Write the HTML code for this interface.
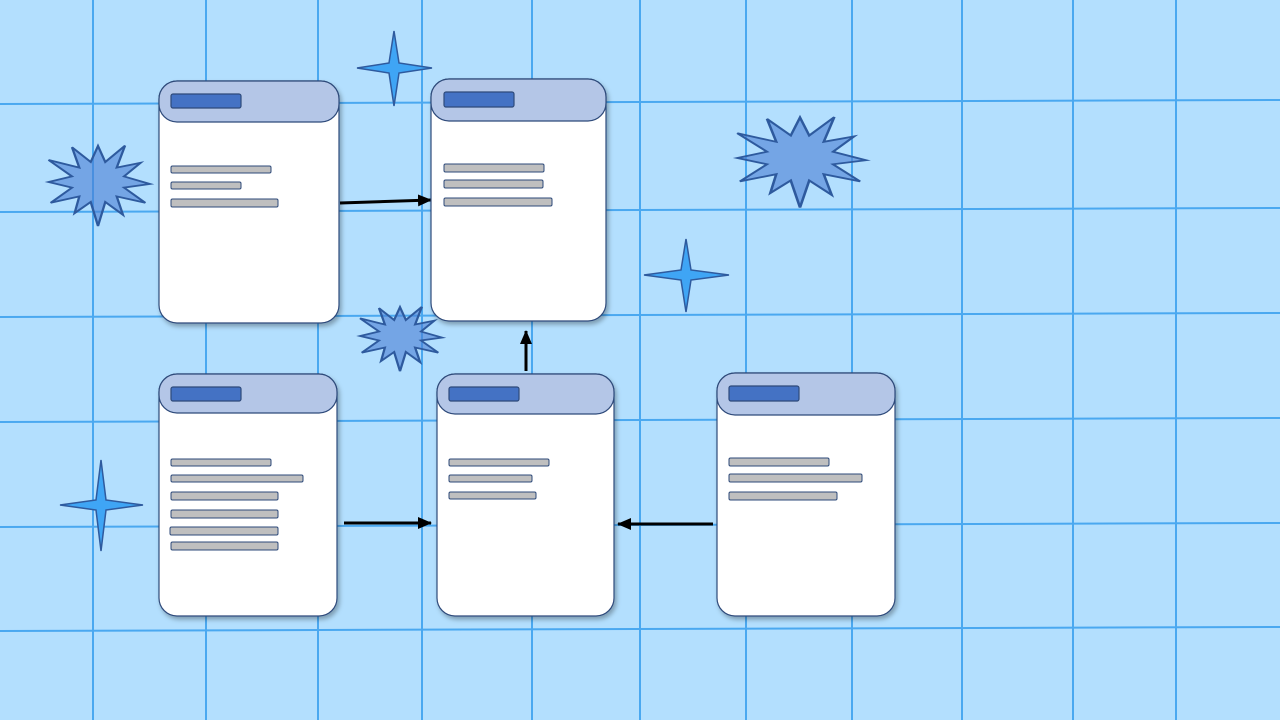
<!DOCTYPE html>
<html><head><meta charset="utf-8"><style>
html,body{margin:0;padding:0;width:1280px;height:720px;overflow:hidden;background:#b3dffe}
</style></head><body>
<svg width="1280" height="720" viewBox="0 0 1280 720" xmlns="http://www.w3.org/2000/svg">
<defs>
<filter id="sh" x="-10%" y="-10%" width="130%" height="130%"><feDropShadow dx="2" dy="3" stdDeviation="2.5" flood-color="#000" flood-opacity="0.3"/></filter>
<polygon id="burst" points="1,0.05 0.5,-0.14 0.82,-0.48 0.36,-0.36 0.52,-0.91 0.14,-0.5 0,-0.9 -0.14,-0.5 -0.5,-0.87 -0.36,-0.36 -0.95,-0.55 -0.5,-0.14 -0.95,0 -0.5,0.14 -0.91,0.52 -0.36,0.36 -0.45,0.78 -0.14,0.5 0,1.1 0.14,0.5 0.48,0.82 0.36,0.36 0.91,0.52 0.5,0.14"/>
<marker id="ah" markerWidth="14" markerHeight="14" refX="13" refY="7" orient="auto" markerUnits="userSpaceOnUse"><path d="M0,1 L14,7 L0,13 z" fill="#000"/></marker>
</defs>
<rect width="1280" height="720" fill="#b3dffe"/>
<g stroke="#4aa8f0" stroke-width="2">
<line x1="93" y1="0" x2="93" y2="720"/><line x1="206" y1="0" x2="206" y2="720"/><line x1="318" y1="0" x2="318" y2="720"/><line x1="422" y1="0" x2="422" y2="720"/><line x1="532" y1="0" x2="532" y2="720"/><line x1="640" y1="0" x2="640" y2="720"/><line x1="746" y1="0" x2="746" y2="720"/><line x1="852" y1="0" x2="852" y2="720"/><line x1="962" y1="0" x2="962" y2="720"/><line x1="1073" y1="0" x2="1073" y2="720"/><line x1="1176" y1="0" x2="1176" y2="720"/>
<line x1="0" y1="104" x2="1280" y2="100"/><line x1="0" y1="212" x2="1280" y2="208"/><line x1="0" y1="317" x2="1280" y2="313"/><line x1="0" y1="422" x2="1280" y2="418"/><line x1="0" y1="527" x2="1280" y2="523"/><line x1="0" y1="631" x2="1280" y2="627"/>
</g>
<g fill="#4a7fd4" fill-opacity="0.6" stroke="#2e5a9e">
<use href="#burst" transform="translate(98,182) scale(52,40)" style="stroke-width:0.045"/>
<use href="#burst" transform="translate(800,158) scale(66,45)" style="stroke-width:0.04"/>
<use href="#burst" transform="translate(400,336) scale(42,32)" style="stroke-width:0.055"/>
</g>
<g fill="#3fa5f5" stroke="#2e5a9e" stroke-width="1.5">
<polygon points="394,31 399,63 432,68 399,73 394,106 389,73 357,68 389,63"/>
<polygon points="686,239 691,270 729,275 691,280 686,312 681,280 644,275 681,270"/>
<polygon points="101,460 106,500 143,505 106,510 101,551 96,510 60,505 96,500"/>
</g>
<g stroke="#000" stroke-width="3" fill="none">
<line x1="340" y1="203" x2="431" y2="200" marker-end="url(#ah)"/>
<line x1="526" y1="371" x2="526" y2="331" marker-end="url(#ah)"/>
<line x1="344" y1="523" x2="431" y2="523" marker-end="url(#ah)"/>
<line x1="713" y1="524" x2="618" y2="524" marker-end="url(#ah)"/>
</g>
<g stroke="#2e4a7a" stroke-width="1.2">
<g filter="url(#sh)">
<rect x="159" y="81" width="180" height="242" rx="18" fill="#fff"/>
<rect x="431" y="79" width="175" height="242" rx="18" fill="#fff"/>
<rect x="159" y="374" width="178" height="242" rx="18" fill="#fff"/>
<rect x="437" y="374" width="177" height="242" rx="18" fill="#fff"/>
<rect x="717" y="373" width="178" height="243" rx="18" fill="#fff"/>
</g>
<rect x="159" y="81" width="180" height="41" rx="18" fill="#b4c6e7"/>
<rect x="431" y="79" width="175" height="42" rx="18" fill="#b4c6e7"/>
<rect x="159" y="374" width="178" height="39" rx="18" fill="#b4c6e7"/>
<rect x="437" y="374" width="177" height="40" rx="18" fill="#b4c6e7"/>
<rect x="717" y="373" width="178" height="42" rx="18" fill="#b4c6e7"/>
<g fill="#4472c4">
<rect x="171" y="94" width="70" height="14" rx="2"/>
<rect x="444" y="92" width="70" height="15" rx="2"/>
<rect x="171" y="387" width="70" height="14" rx="2"/>
<rect x="449" y="387" width="70" height="14" rx="2"/>
<rect x="729" y="386" width="70" height="15" rx="2"/>
</g>
<g fill="#bfbfbf" stroke-width="1">
<rect x="171" y="166" width="100" height="7" rx="1.5"/><rect x="171" y="182" width="70" height="7" rx="1.5"/><rect x="171" y="199" width="107" height="8" rx="1.5"/>
<rect x="444" y="164" width="100" height="8" rx="1.5"/><rect x="444" y="180" width="99" height="8" rx="1.5"/><rect x="444" y="198" width="108" height="8" rx="1.5"/>
<rect x="171" y="459" width="100" height="7" rx="1.5"/><rect x="171" y="475" width="132" height="7" rx="1.5"/><rect x="171" y="492" width="107" height="8" rx="1.5"/><rect x="171" y="510" width="107" height="8" rx="1.5"/><rect x="170" y="527" width="108" height="8" rx="1.5"/><rect x="171" y="542" width="107" height="8" rx="1.5"/>
<rect x="449" y="459" width="100" height="7" rx="1.5"/><rect x="449" y="475" width="83" height="7" rx="1.5"/><rect x="449" y="492" width="87" height="7" rx="1.5"/>
<rect x="729" y="458" width="100" height="8" rx="1.5"/><rect x="729" y="474" width="133" height="8" rx="1.5"/><rect x="729" y="492" width="108" height="8" rx="1.5"/>
</g>
</g>
</svg>
</body></html>
